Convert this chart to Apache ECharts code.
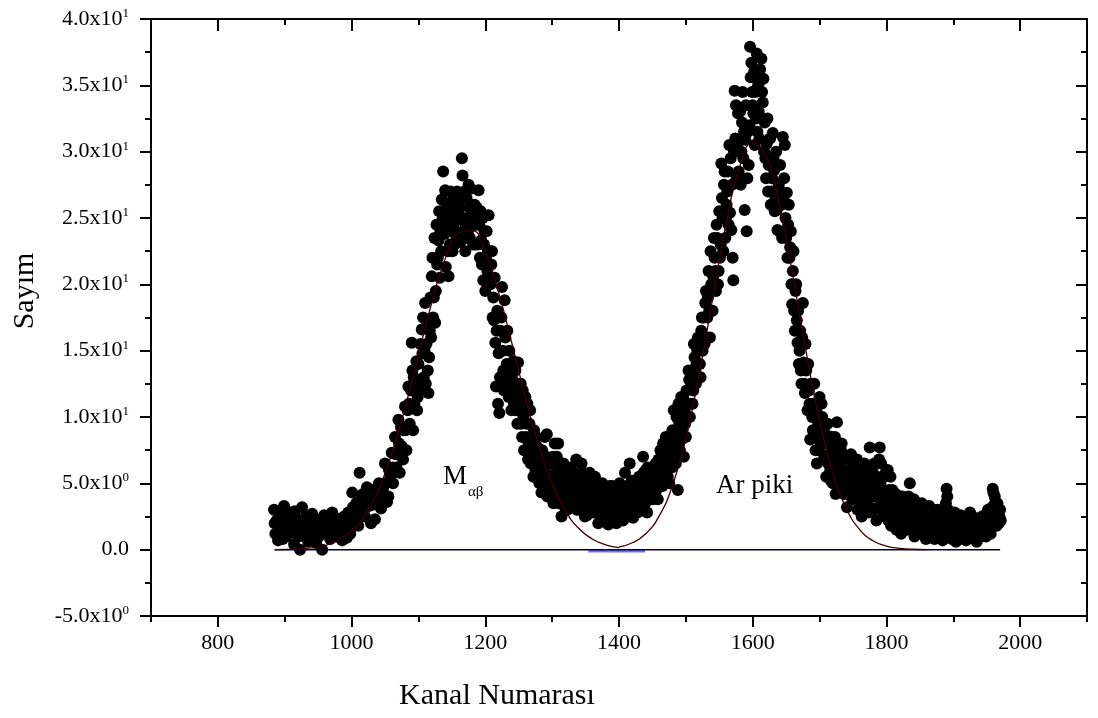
<!DOCTYPE html>
<html>
<head>
<meta charset="utf-8">
<script src="https://cdn.jsdelivr.net/npm/echarts@6/dist/echarts.min.js"></script>
<style>
html,body{margin:0;padding:0;background:#fff;}
#chart{width:1098px;height:718px;}
</style>
</head>
<body>
<div id="chart"></div>
<script>
// ---- Data ----
var measured = [
[884,3.0],[886,1.2],[888,2.2],[890,0.7],[893,2.6],[896,1.5],[899,3.3],[902,1.0],[905,2.0],[908,2.8],
[911,1.3],[914,0.4],[917,2.4],[920,1.8],[923,0.0],[926,3.2],[929,1.1],[932,2.5],[935,0.6],[938,1.9],
[941,2.7],[944,1.2],[947,0.5],[950,2.2],[953,1.6],[956,0.0],[959,2.6],[962,1.3],[965,2.0],[968,0.8],
[971,2.8],[974,1.7],[977,1.0],[980,2.3],[983,1.4],[986,0.7],[989,2.5],[992,1.8],[995,2.8],[998,1.2],
[1001,4.3],[1004,2.2],[1007,3.5],[1010,1.8],[1012,5.8],[1014,3.0],[1017,4.2],[1020,2.5],[1023,4.7],[1026,3.3],
[1029,2.0],[1032,4.5],[1035,2.3],[1038,3.8],[1041,5.0],[1044,3.1],[1047,4.6],[1050,6.5],[1053,3.6],[1055,4.0],
[1058,5.5],[1060,7.3],[1062,5.0],[1065,8.5],[1067,6.2],[1070,9.8],[1072,5.8],[1075,7.8],[1078,9.0],[1080,10.8],
[1082,7.5],[1085,12.3],[1087,9.5],[1090,15.6],[1091,13.5],[1092,9.0],[1094,11.0],[1096,12.5],[1098,10.5],[1100,14.0],
[1102,12.0],[1105,16.6],[1106,14.8],[1108,13.0],[1110,18.6],[1112,15.5],[1114,13.5],[1115,11.8],[1117,16.5],
[1120,20.6],[1122,17.5],[1125,17.1],[1126,19.5],[1128,21.5],[1130,23.3],[1132,20.5],[1134,22.5],[1135,26.4],[1136,24.9],
[1137,28.5],[1139,23.8],[1140,27.1],[1141,21.3],[1143,24.5],[1145,20.6],[1147,23.0],[1149,25.5],[1151,22.5],[1153,24.2],
[1155,26.0],[1157,23.5],[1159,25.2],[1160,26.6],[1161,24.9],[1163,23.2],[1165,29.5],[1166,28.2],[1168,25.0],[1170,22.5],
[1172,26.5],[1174,24.0],[1176,25.8],[1178,27.2],[1180,24.9],[1182,23.0],[1184,26.0],[1186,24.5],[1188,25.5],[1190,27.1],
[1192,22.0],[1194,23.3],[1196,25.0],[1197,20.3],[1199,24.0],[1201,22.0],[1203,21.0],[1205,25.2],[1207,22.5],[1208,20.0],
[1210,22.5],[1212,19.0],[1213,17.3],[1215,15.6],[1216,12.3],[1218,18.0],[1220,14.8],[1221,10.3],[1223,16.5],[1225,19.8],
[1227,13.5],[1229,18.8],[1230,16.0],
[1232,14.0],[1234,12.0],[1236,15.0],[1238,13.0],[1240,11.5],[1242,14.2],[1244,12.5],[1246,10.5],[1249,14.1],[1250,12.3],
[1252,11.0],[1254,9.5],[1256,12.0],[1259,10.3],[1261,8.5],[1263,11.0],[1264,6.8],[1266,9.5],[1269,8.5],[1271,7.0],
[1273,9.0],[1275,6.0],[1277,7.8],[1279,7.3],[1281,5.0],[1284,4.3],[1286,6.5],[1289,8.5],[1292,8.7],[1294,5.5],
[1296,4.8],[1298,6.8],[1300,5.2],[1302,3.5],[1304,8.0],[1306,6.0],[1309,8.0],[1311,4.5],
[1313,6.5],[1314,2.5],[1316,5.0],[1319,5.8],[1321,3.8],[1324,6.0],[1326,4.5],[1329,3.2],[1331,5.2],[1334,4.0],
[1336,6.8],[1339,3.5],[1341,5.0],[1344,6.5],[1346,4.2],[1349,2.5],[1351,3.8],[1352,2.6],[1354,5.0],[1357,3.3],
[1359,4.5],[1362,2.8],[1364,5.5],[1367,3.8],[1369,2.0],[1371,4.7],[1374,3.0],[1376,4.2],[1379,2.5],[1381,3.6],
[1384,1.9],[1386,4.8],[1389,3.0],[1391,2.3],[1394,3.5],[1396,2.0],[1397,3.5],[1399,4.5],[1402,2.8],[1404,3.8],
[1406,2.2],[1409,5.8],[1411,3.0],[1414,4.2],[1416,6.5],[1418,2.6],[1421,2.4],[1423,4.0],[1425,5.0],[1427,3.5],
[1429,4.7],[1432,3.2],[1434,5.5],[1436,7.0],[1438,4.0],[1440,6.0],[1442,2.8],[1444,5.0],[1446,4.7],[1449,6.2],
[1451,3.8],[1454,5.5],[1456,4.5],[1459,6.8],[1461,6.5],[1463,5.0],[1466,8.0],[1468,6.0],[1471,7.2],[1473,5.5],
[1476,6.5],[1478,8.5],
[1480,9.0],[1483,7.5],[1486,10.0],[1487,7.7],[1488,4.5],[1490,9.6],[1492,8.2],[1494,10.5],[1496,11.5],[1497,7.0],
[1499,9.5],[1501,12.0],[1503,10.0],[1505,12.8],[1507,11.0],[1509,13.5],[1511,12.0],[1513,14.5],[1515,12.5],[1517,15.0],
[1519,13.0],[1521,14.0],[1523,16.5],[1525,15.0],[1527,17.5],[1529,18.6],[1531,16.0],[1533,19.0],[1536,16.0],[1538,20.0],
[1540,18.0],[1541,20.6],[1543,22.0],[1545,19.5],[1547,23.5],[1549,21.0],[1551,22.0],[1553,29.1],[1555,25.0],[1557,27.5],
[1559,23.5],
[1561,26.0],[1563,28.5],[1565,30.5],[1566,25.4],[1568,24.1],[1570,22.0],[1571,20.3],[1573,34.6],[1574,31.0],[1576,28.0],
[1578,32.9],[1580,30.0],[1582,27.5],[1584,32.2],[1586,29.5],[1588,25.6],[1589,30.9],[1591,24.0],[1593,31.5],[1594,29.0],
[1596,37.9],[1597,35.6],[1598,36.7],[1600,33.5],[1601,32.9],[1603,30.5],[1604,34.5],[1606,37.4],[1607,31.5],[1609,33.0],
[1611,36.2],[1612,35.4],[1613,37.0],[1614,34.5],[1615,33.7],[1617,30.0],[1618,32.2],[1620,28.0],[1621,30.6],[1623,27.0],
[1625,29.5],[1627,26.0],[1629,28.0],[1630,31.4],[1632,28.6],[1634,26.5],[1636,25.6],[1637,24.1],[1639,27.5],[1641,29.0],
[1643,26.0],[1645,31.1],[1647,28.0],[1649,25.0],[1651,26.9],[1653,24.5],[1655,22.0],[1656,22.8],[1658,20.0],[1660,21.0],
[1662,18.0],[1664,19.5],[1666,17.3],[1667,15.6],[1669,14.0],[1671,16.5],[1673,12.5],[1675,18.6],[1676,14.1],[1678,11.8],
[1680,13.5],[1682,10.5],[1684,12.0],[1686,8.3],[1688,10.5],[1690,9.0],[1692,12.5],[1694,7.5],[1696,6.5],[1698,9.5],
[1700,11.5],[1702,8.0],[1704,10.0],[1706,6.8],[1708,8.8],[1710,5.5],[1712,9.5],[1714,7.2],[1716,6.0],[1718,8.5],
[1720,5.0],[1722,7.0],[1724,4.2],[1726,9.6],[1728,6.5],[1730,5.5],[1732,7.5],[1734,4.5],[1736,6.8],[1738,5.0],
[1741,3.2],[1743,6.0],[1745,4.8],[1747,7.2],[1749,3.8],[1751,5.5],[1753,6.5],[1755,4.0],[1757,3.0],[1759,5.8],
[1761,4.5],[1763,2.5],[1765,4.5],[1767,6.5],[1769,3.5],[1771,5.2],[1773,2.8],[1775,7.7],[1777,4.0],[1779,6.0],
[1781,3.0],[1783,5.0],[1785,2.2],[1787,4.3],[1790,7.7],[1792,6.5],[1794,3.5],[1796,5.5],[1798,2.5],[1800,4.0],
[1802,6.0],[1805,3.0],[1807,1.8],[1809,4.5],[1811,2.5],[1813,3.5],[1815,1.5],[1818,2.8],[1820,4.0],[1822,1.2],
[1825,3.0],[1827,2.0],[1830,3.8],[1832,1.5],[1835,5.0],[1837,2.5],[1839,3.2],[1842,1.0],[1844,2.2],[1847,3.5],
[1849,1.3],[1852,2.6],[1854,1.8],[1857,3.0],[1859,0.8],[1862,2.0],[1864,3.3],[1867,1.5],[1869,2.5],[1872,0.8],
[1874,1.8],[1877,3.0],[1879,1.2],[1882,2.3],[1884,0.7],[1887,1.6],[1890,4.6],[1891,4.0],[1892,3.0],[1894,1.0],
[1897,2.0],[1899,1.3],[1902,2.8],[1904,0.6],[1907,1.7],[1909,2.4],[1912,1.0],[1914,2.0],[1917,1.5],[1919,0.7],
[1922,2.2],[1924,1.3],[1927,2.6],[1929,1.0],[1932,1.8],[1935,0.6],[1937,1.5],[1940,2.3],[1942,1.0],[1945,1.8],
[1947,2.6],[1950,1.3],[1952,3.0],[1955,1.8],[1957,2.2],[1959,4.6],[1960,4.3],[1962,4.0],[1964,2.5],[1966,3.5],
[1968,2.0],[1970,3.0]
];

var measuredMore = [
[885,2.0],[891,1.8],[897,0.8],[903,2.5],[909,1.7],[915,2.9],[921,1.0],[927,2.0],[933,1.4],[939,0.9],
[945,2.3],[951,1.0],[957,1.8],[963,2.4],[969,1.5],[975,2.4],[981,1.0],[987,1.8],[993,0.9],[997,2.0],
[1002,3.2],[1008,2.6],[1015,3.8],[1021,3.5],[1027,4.0],[1033,3.4],[1039,4.6],[1045,4.0],[1051,5.0],[1056,6.0],
[1061,6.2],[1066,7.2],[1071,8.0],[1074,9.2],[1077,6.8],[1081,9.0],[1084,10.5],[1086,11.0],[1089,12.0],[1093,13.0],
[1097,14.2],[1099,11.5],[1103,15.5],[1107,17.5],[1109,15.0],[1111,12.5],[1113,17.0],[1116,14.5],[1118,19.0],[1119,16.0],
[1121,22.0],[1123,19.0],[1124,23.5],[1127,24.5],[1129,22.0],[1131,25.5],[1133,24.0],[1138,25.5],[1142,26.0],[1144,22.5],
[1146,25.0],[1148,27.0],[1150,24.0],[1152,26.5],[1154,23.0],[1156,24.8],[1158,27.0],[1162,25.8],[1164,26.5],[1167,24.0],
[1169,27.0],[1171,24.5],[1173,23.5],[1175,27.5],[1177,23.5],[1179,26.0],[1181,25.5],[1183,24.5],[1185,23.0],[1187,25.8],
[1189,23.0],[1191,24.5],[1193,25.5],[1195,21.5],[1198,23.0],[1200,19.5],[1202,24.0],[1204,22.5],[1206,20.5],[1209,21.5],
[1211,17.5],[1214,20.5],[1217,16.5],[1219,11.0],[1222,13.0],[1224,17.5],[1226,15.0],[1228,12.0],[1231,12.5],
[1233,16.5],[1235,11.5],[1237,13.5],[1239,10.5],[1241,12.8],[1243,11.0],[1245,13.5],[1247,11.8],[1248,9.5],[1251,10.5],
[1253,12.5],[1255,8.5],[1257,10.0],[1258,7.5],[1260,11.5],[1262,9.5],[1265,8.0],[1267,10.5],[1268,6.5],[1270,7.8],
[1272,5.5],[1274,7.5],[1276,8.5],[1278,5.8],[1280,6.5],[1282,7.5],[1283,5.2],[1285,7.5],[1287,4.8],[1288,6.0],
[1290,5.0],[1291,7.0],[1293,4.0],[1295,6.5],[1297,5.5],[1299,4.2],[1301,7.0],[1303,5.0],[1305,4.0],[1307,7.0],
[1308,5.2],[1310,3.5],[1312,5.5],
[1315,4.0],[1317,6.5],[1318,3.3],[1320,4.8],[1322,5.5],[1323,3.0],[1325,5.0],[1327,3.8],[1328,6.2],[1330,4.2],
[1332,3.5],[1333,5.8],[1335,4.8],[1337,3.0],[1338,5.5],[1340,4.2],[1342,3.0],[1343,5.5],[1345,3.5],[1347,5.8],
[1348,3.0],[1350,4.8],[1353,4.0],[1355,3.2],[1356,5.8],[1358,3.8],[1360,4.0],[1361,3.2],[1363,4.5],[1365,3.0],
[1366,4.2],[1368,5.0],[1370,3.3],[1372,2.6],[1373,4.0],[1375,5.0],[1377,3.2],[1378,4.5],[1380,3.0],[1382,4.5],
[1383,2.8],[1385,3.2],[1387,2.5],[1388,4.0],[1390,4.8],[1392,3.0],[1393,4.2],[1395,2.8],[1398,2.5],[1400,3.2],
[1401,5.0],[1403,3.2],[1405,4.5],[1407,3.0],[1408,4.0],[1410,2.8],[1412,4.8],[1413,3.2],[1415,2.5],[1417,3.8],
[1419,5.2],[1420,3.2],[1422,4.5],[1424,3.0],[1426,4.2],[1428,2.8],[1430,5.5],[1431,4.0],[1433,3.0],[1435,4.2],
[1437,5.8],[1439,3.5],[1441,4.8],[1443,6.2],[1445,3.8],[1447,5.8],[1448,4.0],[1450,5.0],[1452,6.0],[1453,4.2],
[1455,6.5],[1457,5.2],[1458,3.8],[1460,5.5],[1462,7.5],[1464,6.2],[1465,4.8],[1467,7.0],[1469,5.2],[1470,8.5],
[1472,6.5],[1474,8.0],[1475,5.0],[1477,7.5],[1479,6.2],
[1481,7.0],[1482,10.5],[1484,8.5],[1485,6.5],[1489,11.0],[1491,7.5],[1493,11.5],[1495,9.0],[1498,10.5],[1500,8.5],
[1502,11.0],[1504,13.5],[1506,10.0],[1508,12.5],[1510,11.0],[1512,15.5],[1514,13.5],[1516,14.0],[1518,16.0],[1520,15.5],
[1522,13.0],[1524,17.5],[1526,16.0],[1528,15.5],[1530,19.5],[1532,17.5],[1534,21.0],[1535,18.0],[1537,22.5],[1539,19.5],
[1542,23.5],[1544,21.0],[1546,24.5],[1548,20.0],[1550,25.5],[1552,23.0],[1554,26.5],[1556,22.5],[1558,28.5],[1560,25.0],
[1562,27.0],[1564,24.5],[1567,29.5],[1569,27.5],[1572,30.0],[1575,33.5],[1577,30.5],[1579,28.5],[1581,33.0],[1583,30.0],
[1585,34.5],[1587,31.5],[1590,33.5],[1592,28.0],[1595,32.0],[1599,34.5],[1602,36.0],[1605,32.5],[1608,35.0],[1610,31.0],
[1616,35.5],[1619,29.5],[1622,32.5],[1624,29.0],[1626,31.0],[1628,27.0],[1631,29.5],[1633,25.5],[1635,30.0],[1638,26.5],
[1640,24.0],[1642,27.0],[1644,23.5],[1646,26.5],[1648,30.5],[1650,23.5],[1652,22.0],[1654,26.0],[1657,24.0],[1659,18.5],
[1661,22.5],[1663,16.5],[1665,20.0],[1668,18.0],[1670,15.0],[1672,13.5],[1674,16.0],[1677,12.5],[1679,15.5],[1681,12.0],
[1683,14.0],[1685,11.0],[1687,12.5],[1689,10.0],[1691,11.0],[1693,9.0],[1695,10.5],[1697,8.5],[1699,7.5],[1701,9.0],
[1703,11.0],[1705,8.0],[1707,9.5],[1709,7.0],[1711,8.0],[1713,6.5],[1715,8.5],[1717,5.2],[1719,7.5],[1721,6.0],
[1723,8.5],[1725,5.5],[1727,7.8],[1729,4.8],[1731,6.5],[1733,8.0],[1735,5.8],[1737,4.2],[1739,7.0],[1740,5.5],
[1742,4.5],[1744,7.0],[1746,5.5],[1748,4.2],[1750,6.5],[1752,4.0],[1754,5.0],[1756,6.8],[1758,4.0],[1760,6.5],
[1762,3.5],[1764,5.5],[1766,3.0],[1768,4.8],[1770,6.0],[1772,4.2],[1774,5.8],[1776,3.2],[1778,5.2],[1780,4.5],
[1782,6.5],[1784,4.0],[1786,5.5],[1788,3.2],[1789,6.8],[1791,5.0],[1793,4.5],[1795,2.8],[1797,4.2],[1799,5.8],
[1801,3.2],[1803,2.2],[1804,4.5],[1806,5.5],[1808,2.8],[1810,3.5],[1812,1.8],[1814,4.2],[1816,2.5],[1817,3.5],
[1819,1.8],[1821,3.0],[1823,2.5],[1824,4.0],[1826,1.5],[1828,3.0],[1829,2.5],[1831,2.0],[1833,4.0],[1834,2.8],
[1836,3.5],[1838,1.8],[1840,2.8],[1841,3.8],[1843,1.5],[1845,2.8],[1846,1.8],[1848,2.5],[1850,3.2],[1851,1.8],
[1853,3.5],[1855,2.2],[1856,1.2],[1858,2.5],[1860,1.5],[1861,3.0],[1863,1.2],[1865,2.3],[1866,1.0],[1868,2.0],
[1870,3.0],[1871,1.2],[1873,2.5],[1875,1.2],[1876,2.2],[1878,1.8],[1880,2.8],[1881,0.9],[1883,1.5],[1885,2.5],
[1886,1.0],[1888,2.0],[1889,3.5],[1893,2.2],[1895,1.5],[1896,2.6],[1898,0.8],[1900,1.8],[1901,1.0],[1903,2.0],
[1905,1.2],[1906,2.4],[1908,1.0],[1910,1.8],[1911,2.6],[1913,1.5],[1915,0.8],[1916,2.2],[1918,1.2],[1920,1.8],
[1921,1.0],[1923,1.6],[1925,2.8],[1926,1.2],[1928,2.0],[1930,1.4],[1931,2.4],[1933,1.2],[1934,2.0],[1936,1.0],
[1938,2.2],[1939,1.4],[1941,1.8],[1943,2.5],[1944,1.3],[1946,1.2],[1948,2.0],[1949,1.0],[1951,2.2],[1953,1.5],
[1954,2.6],[1956,1.2],[1958,3.2],[1961,2.8],[1963,3.6],[1965,1.8],[1967,2.8],[1969,2.5],[1971,2.2]
];

// Fitted peak curves
var fitMab = [
[885,0.01],[920,0.05],[940,0.13],[960,0.32],[980,0.69],[1000,1.40],[1020,2.61],[1040,4.50],[1060,7.21],[1080,10.70],
[1100,14.68],[1120,18.64],[1140,21.92],[1160,23.87],[1180,24.05],[1200,22.44],[1220,19.38],[1240,15.50],[1260,11.46],
[1280,7.86],[1300,4.98],[1320,2.92],[1340,1.59],[1360,0.80],[1380,0.37],[1400,0.16]
];
var fitAr = [
[1400,0.20],[1420,0.52],[1440,1.20],[1460,2.53],[1480,4.84],[1500,8.41],[1520,13.24],[1540,18.91],[1560,24.50],
[1580,28.77],[1600,30.67],[1620,29.64],[1640,25.98],[1660,20.65],[1680,14.89],[1700,9.73],[1720,5.78],[1740,3.11],
[1760,1.51],[1780,0.67],[1800,0.27],[1820,0.10],[1840,0.03],[1860,0.01]
];
var baseline = [[885,0],[1970,0]];
var baselineBlue = [[1354,-0.1],[1439,-0.1]];

// Tick labels
var xMajorTicks = [800,1000,1200,1400,1600,1800,2000];
var xMinorTicks = [700,900,1100,1300,1500,1700,1900,2100];
var yTickValues = [-5,0,5,10,15,20,25,30,35,40];
var yTickMantissa = ['-5.0','0.0','5.0','1.0','1.5','2.0','2.5','3.0','3.5','4.0'];
var yTickExponent = ['0','','0','1','1','1','1','1','1','1'];

var xTitle = 'Kanal Numarası';
var yTitle = 'Sayım';
var peakLabel1 = 'M';
var peakLabel1Sub = 'αβ';
var peakLabel2 = 'Ar piki';

// ---- Chart ----
var FONT = '"Liberation Serif", "Times New Roman", serif';
var chart = echarts.init(document.getElementById('chart'), null, {renderer: 'canvas'});

var axisLineStyle = {color: '#000', width: 2};
var baseX = {type: 'value', min: 700, max: 2100, gridIndex: 0, splitLine: {show: false}};

function xAxisDef(pos, ticks, len, labels) {
  return Object.assign({}, baseX, {
    position: pos,
    axisLine: {show: true, onZero: false, lineStyle: axisLineStyle},
    axisTick: {show: true, inside: pos === 'top', length: len, customValues: ticks, lineStyle: {color: '#000', width: 2}},
    axisLabel: labels ? {show: true, customValues: ticks, margin: 16, fontSize: 22, color: '#000', fontFamily: FONT,
      formatter: function (v) { return String(v); }} : {show: false}
  });
}

function yLabelFormatter(v) {
  var i = yTickValues.indexOf(Math.round(v * 10) / 10);
  if (i < 0) return '';
  if (yTickExponent[i] === '') return '{m|' + yTickMantissa[i] + '}';
  return '{m|' + yTickMantissa[i] + 'x10}{s|' + yTickExponent[i] + '}';
}

function yAxisDef(pos, labels) {
  return {
    type: 'value', min: -5, max: 40, interval: 5, position: pos,
    splitLine: {show: false},
    axisLine: {show: true, onZero: false, lineStyle: axisLineStyle},
    axisTick: {show: true, inside: pos === 'right', length: 11, lineStyle: {color: '#000', width: 2}},
    minorTick: {show: true, splitNumber: 2, length: 6, lineStyle: {color: '#000', width: 2}},
    axisLabel: labels ? {
      show: true, margin: 22, formatter: yLabelFormatter, color: '#000',
      rich: {
        m: {fontSize: 22, fontFamily: FONT, color: '#000', lineHeight: 24},
        s: {fontSize: 13, fontFamily: FONT, color: '#000', verticalAlign: 'top', lineHeight: 14}
      }
    } : {show: false}
  };
}

var option = {
  backgroundColor: '#fff',
  animation: false,
  grid: {left: 151, top: 19, width: 936, height: 597, containLabel: false},
  xAxis: [
    xAxisDef('bottom', xMajorTicks, 11, true),
    xAxisDef('bottom', xMinorTicks, 6, false),
    xAxisDef('top', xMajorTicks, 12, false),
    xAxisDef('top', xMinorTicks, 6, false)
  ],
  yAxis: [yAxisDef('left', true), yAxisDef('right', false)],
  series: [
    {type: 'scatter', data: measured.concat(measuredMore), symbol: 'circle', symbolSize: 12, large: false,
      itemStyle: {color: '#000', opacity: 1}, xAxisIndex: 0, yAxisIndex: 0, z: 2},
    {type: 'line', data: baselineBlue, showSymbol: false, symbol: 'none',
      lineStyle: {color: '#7070ff', width: 3}, z: 3},
    {type: 'line', data: baseline, showSymbol: false, symbol: 'none',
      lineStyle: {color: '#000035', width: 1.5}, z: 4},
    {type: 'line', data: fitMab, smooth: true, showSymbol: false, symbol: 'none',
      lineStyle: {color: '#3a0000', width: 1.3}, z: 5},
    {type: 'line', data: fitAr, smooth: true, showSymbol: false, symbol: 'none',
      lineStyle: {color: '#3a0000', width: 1.3}, z: 5}
  ],
  graphic: [
    {type: 'text', x: 25, y: 291, rotation: Math.PI / 2,
      style: {text: yTitle, font: '30px ' + FONT, fill: '#000', textAlign: 'center', textVerticalAlign: 'middle'}},
    {type: 'text', x: 497, y: 696,
      style: {text: xTitle, font: '30px ' + FONT, fill: '#000', textAlign: 'center', textVerticalAlign: 'middle'}},
    {type: 'text', x: 443, y: 477,
      style: {text: peakLabel1, font: '27px ' + FONT, fill: '#000', textAlign: 'left', textVerticalAlign: 'middle'}},
    {type: 'text', x: 468, y: 492,
      style: {text: peakLabel1Sub, font: '15px ' + FONT, fill: '#000', textAlign: 'left', textVerticalAlign: 'middle'}},
    {type: 'text', x: 716, y: 486,
      style: {text: peakLabel2, font: '27px ' + FONT, fill: '#000', textAlign: 'left', textVerticalAlign: 'middle'}}
  ]
};
chart.setOption(option);
</script>
</body>
</html>
